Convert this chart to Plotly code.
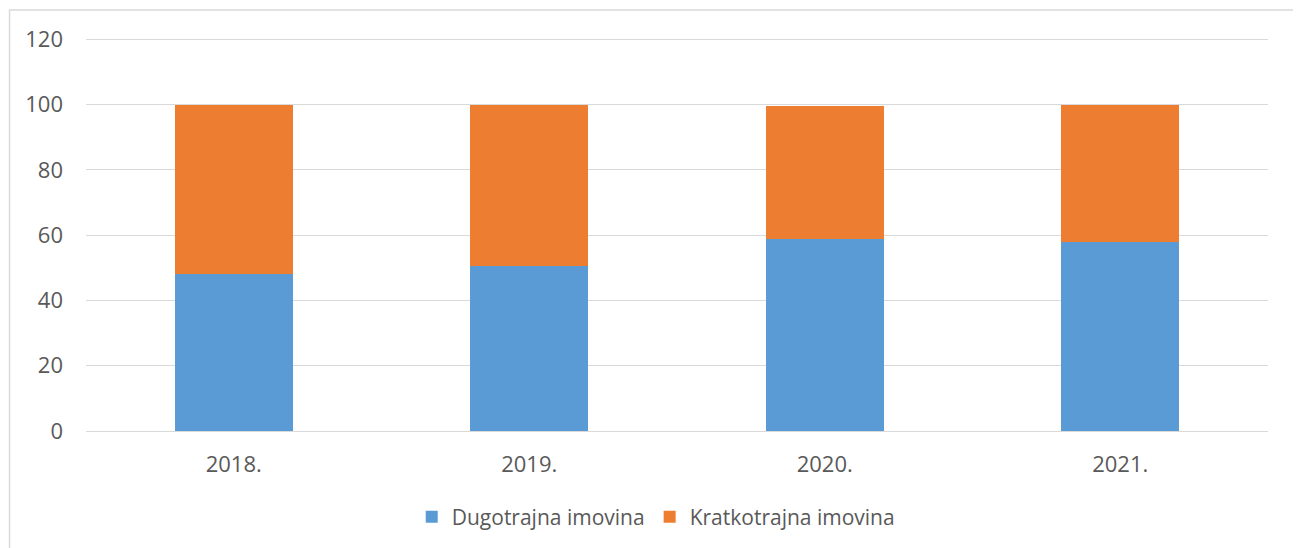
import plotly.graph_objects as go

years = ["2018.", "2019.", "2020.", "2021."]
dugotrajna = [48.2, 50.5, 58.8, 58.0]
kratkotrajna = [51.8, 49.5, 40.9, 42.0]
y_ticks = [0, 20, 40, 60, 80, 100, 120]

FONT = "Open Sans"
TXT = "#595959"
FS = 22

fig = go.Figure()
fig.add_trace(go.Bar(x=years, y=dugotrajna, name="Dugotrajna imovina",
                     marker=dict(color="#5B9BD5", line=dict(width=0))))
fig.add_trace(go.Bar(x=years, y=kratkotrajna, name="Kratkotrajna imovina",
                     marker=dict(color="#ED7D31", line=dict(width=0))))

fig.update_layout(
    barmode="stack",
    bargap=0.6,
    width=1293, height=540,
    margin=dict(l=78, r=33, t=28, b=116),
    paper_bgcolor="white", plot_bgcolor="white",
    font=dict(family=FONT, size=FS, color=TXT),
    legend=dict(orientation="h", x=0.482, xanchor="center", y=-0.215, yanchor="middle",
                font=dict(family=FONT, size=21, color=TXT), itemsizing="constant",
                traceorder="normal"),
    showlegend=True,
)
fig.update_xaxes(showgrid=False, showline=False, ticks="", tickfont=dict(size=FS, color=TXT),
                 ticklabelstandoff=18)
fig.update_yaxes(range=[0, 121], tickvals=y_ticks, showgrid=True, gridcolor="#D9D9D9",
                 gridwidth=1.3, zeroline=True, zerolinecolor="#D9D9D9", zerolinewidth=1.3,
                 showline=False, ticks="", tickfont=dict(size=FS, color=TXT),
                 ticklabelstandoff=22)

fig.add_shape(type="rect", xref="paper", yref="paper",
              x0=-0.0647, x1=1.0241, y0=-0.33, y1=1.066,
              line=dict(color="#D9D9D9", width=1.5), fillcolor="rgba(0,0,0,0)", layer="below")

fig.write_html("out.html")
